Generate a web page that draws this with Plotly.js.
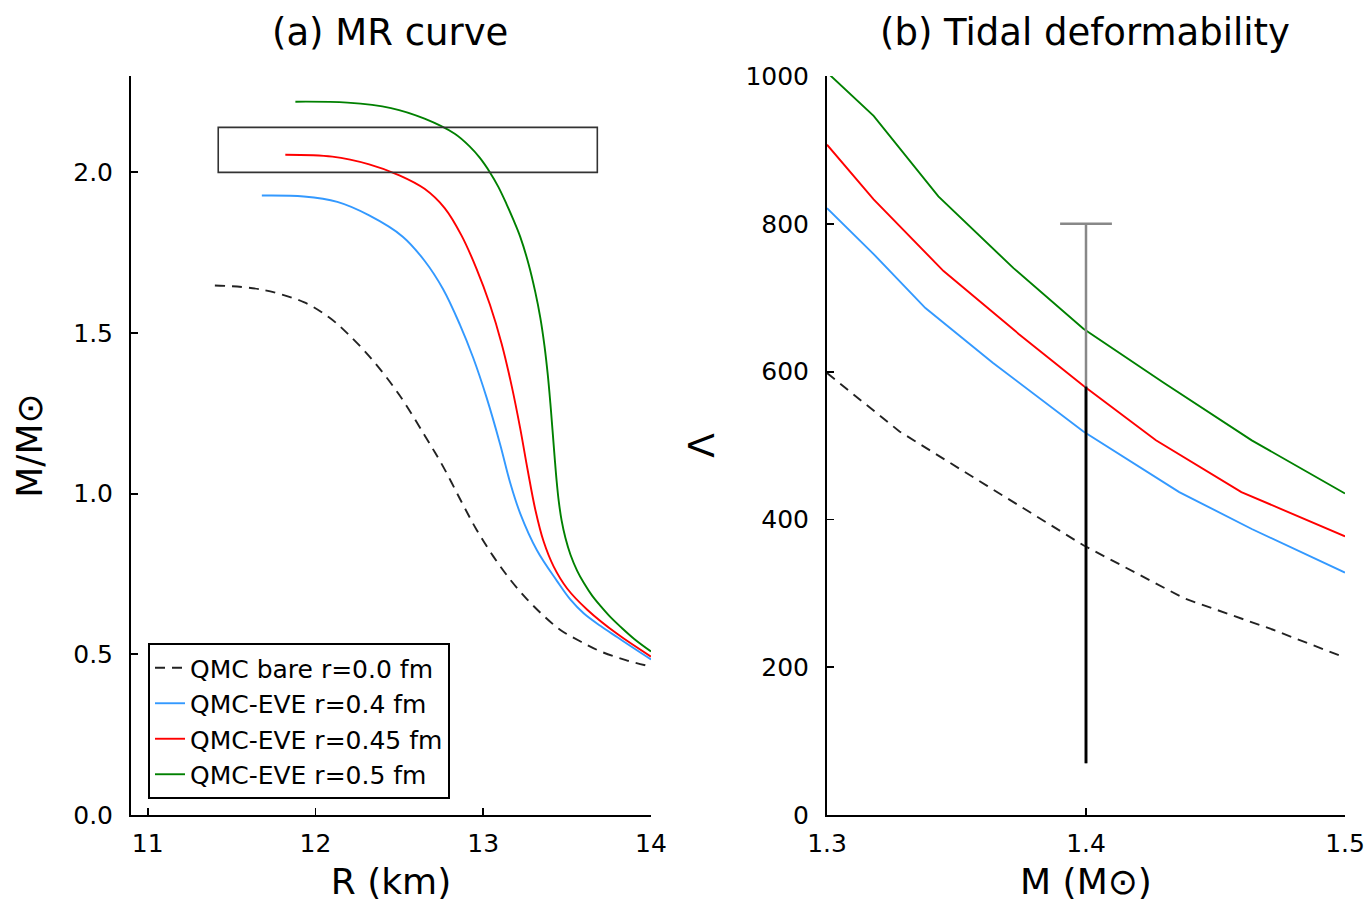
<!DOCTYPE html>
<html>
<head>
<meta charset="utf-8">
<script src="https://cdn.plot.ly/plotly-3.0.1.min.js"></script>
<style>html,body{margin:0;padding:0;background:#fff;}#plot{width:1369px;height:902px;}</style>
</head>
<body>
<div id="plot"></div>
<script>
// ---- Panel (a): mass-radius curves ----
var seriesNames = ["QMC bare r=0.0 fm", "QMC-EVE r=0.4 fm", "QMC-EVE r=0.45 fm", "QMC-EVE r=0.5 fm"];

var R_bare = [11.40, 11.67, 11.93, 12.08, 12.19, 12.34, 12.50, 12.65, 12.76, 12.87, 12.96, 13.06, 13.16, 13.26, 13.36, 13.46, 13.58, 13.70, 13.85, 14.00];
var M_bare = [1.648, 1.636, 1.596, 1.549, 1.499, 1.416, 1.307, 1.182, 1.085, 0.975, 0.888, 0.805, 0.733, 0.672, 0.620, 0.576, 0.540, 0.509, 0.482, 0.462];

var R_04 = [11.68, 11.93, 12.13, 12.32, 12.52, 12.65, 12.76, 12.86, 12.94, 13.02, 13.10, 13.16, 13.22, 13.32, 13.44, 13.52, 13.60, 13.70, 13.80, 13.90, 14.00];
var M_04 = [1.928, 1.925, 1.908, 1.866, 1.800, 1.725, 1.637, 1.527, 1.423, 1.299, 1.155, 1.035, 0.939, 0.824, 0.728, 0.670, 0.627, 0.588, 0.553, 0.518, 0.484];

var R_045 = [11.82, 12.10, 12.32, 12.50, 12.65, 12.77, 12.87, 12.96, 13.04, 13.11, 13.17, 13.22, 13.265, 13.31, 13.36, 13.42, 13.50, 13.62, 13.80, 14.00];
var M_045 = [2.055, 2.049, 2.025, 1.991, 1.949, 1.889, 1.804, 1.700, 1.588, 1.466, 1.334, 1.204, 1.073, 0.951, 0.851, 0.773, 0.705, 0.639, 0.563, 0.493];

var R_05 = [11.88, 12.19, 12.45, 12.65, 12.83, 12.92, 12.98, 13.04, 13.09, 13.14, 13.18, 13.22, 13.27, 13.31, 13.34, 13.365, 13.385, 13.40, 13.413, 13.425, 13.437, 13.45, 13.467, 13.49, 13.52, 13.56, 13.60, 13.65, 13.70, 13.76, 13.82, 13.90, 14.00];
var M_05 = [2.220, 2.217, 2.200, 2.167, 2.120, 2.080, 2.045, 2.000, 1.955, 1.900, 1.852, 1.800, 1.715, 1.628, 1.548, 1.460, 1.368, 1.282, 1.197, 1.117, 1.042, 0.977, 0.917, 0.862, 0.810, 0.760, 0.722, 0.682, 0.650, 0.615, 0.585, 0.548, 0.509];

// observational mass band (rectangle)
var bandR = [11.42, 13.68];
var bandM = [2.0, 2.14];

// ---- Panel (b): tidal deformability ----
var Mt_bare = [1.300, 1.328, 1.362, 1.399, 1.438, 1.472, 1.500];
var L_bare  = [598, 519, 445, 365, 293, 251, 213];

var Mt_04 = [1.300, 1.318, 1.338, 1.364, 1.399, 1.436, 1.464, 1.500];
var L_04  = [821, 759, 686, 612, 519, 437, 387, 328];

var Mt_045 = [1.300, 1.318, 1.345, 1.374, 1.399, 1.427, 1.460, 1.500];
var L_045  = [907, 833, 736, 651, 581, 507, 437, 377];

var Mt_05 = [1.300, 1.318, 1.343, 1.372, 1.399, 1.430, 1.464, 1.500];
var L_05  = [1005, 946, 837, 740, 658, 585, 507, 435];

// GW170817 constraints at M = 1.4
var gwM = [1.4, 1.4];
var gwGray = [70, 800];
var gwCapM = [1.39, 1.41];
var gwCapL = [800, 800];
var gwBlack = [70, 580];

var colors = ["#222222", "#3399ff", "#ff0000", "#008000"];
var FONT = "DejaVu Sans";

function line(x, y, name, color, dash, xa, ya, show, shape) {
  return {
    x: x, y: y, name: name, type: "scatter", mode: "lines",
    xaxis: xa, yaxis: ya, showlegend: show,
    line: {color: color, width: 1.9, dash: dash || "solid", shape: shape || "linear", smoothing: 1.0},
    hoverinfo: "x+y+name"
  };
}

var traces = [
  line(R_bare, M_bare, seriesNames[0], colors[0], "10px,7px", "x", "y", true, "spline"),
  line(R_04, M_04, seriesNames[1], colors[1], null, "x", "y", true, "spline"),
  line(R_045, M_045, seriesNames[2], colors[2], null, "x", "y", true, "spline"),
  line(R_05, M_05, seriesNames[3], colors[3], null, "x", "y", true, "spline"),
  line(Mt_bare, L_bare, seriesNames[0], colors[0], "10px,7px", "x2", "y2", false),
  line(Mt_04, L_04, seriesNames[1], colors[1], null, "x2", "y2", false),
  line(Mt_045, L_045, seriesNames[2], colors[2], null, "x2", "y2", false),
  line(Mt_05, L_05, seriesNames[3], colors[3], null, "x2", "y2", false),
  {x: gwM, y: gwGray, type: "scatter", mode: "lines", xaxis: "x2", yaxis: "y2", showlegend: false,
   line: {color: "#888888", width: 2.5}, hoverinfo: "skip"},
  {x: gwCapM, y: gwCapL, type: "scatter", mode: "lines", xaxis: "x2", yaxis: "y2", showlegend: false,
   line: {color: "#888888", width: 2.5}, hoverinfo: "skip"},
  {x: gwM, y: gwBlack, type: "scatter", mode: "lines", xaxis: "x2", yaxis: "y2", showlegend: false,
   line: {color: "#000000", width: 2.8}, hoverinfo: "skip"}
];

var W = 1369, H = 902;
function px(v) { return v / W; }
function py(v) { return 1 - v / H; }

var axisCommon = {
  showgrid: false, zeroline: false, showline: true, linecolor: "#000", linewidth: 2,
  ticks: "inside", ticklen: 7, tickwidth: 1.8, tickcolor: "#000",
  tickfont: {family: FONT, size: 25, color: "#000"}, automargin: false, mirror: false
};

function ax(extra) { return Object.assign({}, axisCommon, extra); }
var titleFont = {family: FONT, size: 36, color: "#000"};

var layout = {
  width: W, height: H,
  margin: {l: 0, r: 0, t: 0, b: 0},
  paper_bgcolor: "#fff", plot_bgcolor: "#fff",
  font: {family: FONT, color: "#000"},
  showlegend: true,
  legend: {
    x: px(148), y: py(643), xanchor: "left", yanchor: "top",
    bgcolor: "#fff", bordercolor: "#000", borderwidth: 2,
    font: {family: FONT, size: 25, color: "#000"},
    tracegroupgap: 0, itemwidth: 30
  },
  xaxis: ax({domain: [px(131), px(651)], range: [10.9, 14.0], tickvals: [11, 12, 13, 14],
             ticktext: ["11", "12", "13", "14"], anchor: "y", ticklabelstandoff: 5,
             title: {text: "R (km)", font: titleFont, standoff: 15}}),
  yaxis: ax({domain: [py(815), py(76)], range: [0, 2.3], tickvals: [0, 0.5, 1.0, 1.5, 2.0],
             tickformat: ".1f", anchor: "x", ticklabelstandoff: 11,
             title: {text: "M/M⊙", font: titleFont, standoff: 20}}),
  xaxis2: ax({domain: [px(827), px(1345)], range: [1.3, 1.5], tickvals: [1.3, 1.4, 1.5],
              tickformat: ".1f", anchor: "y2", ticklabelstandoff: 5,
              title: {text: "M (M⊙)", font: titleFont, standoff: 15}}),
  yaxis2: ax({domain: [py(815), py(76)], range: [0, 1000], tickvals: [0, 200, 400, 600, 800, 1000],
              anchor: "x2", ticklabelstandoff: 11,
              title: {text: "Λ", font: titleFont, standoff: 20}}),
  shapes: [{
    type: "rect", xref: "x", yref: "y",
    x0: bandR[0], x1: bandR[1], y0: bandM[0], y1: bandM[1],
    line: {color: "#333", width: 1.6}, fillcolor: "rgba(0,0,0,0)", layer: "above"
  }],
  annotations: [
    {text: "(a) MR curve", xref: "paper", yref: "paper", x: px(390), y: py(32),
     xanchor: "center", yanchor: "middle", showarrow: false,
     font: {family: FONT, size: 37, color: "#000"}},
    {text: "(b) Tidal deformability", xref: "paper", yref: "paper", x: px(1085), y: py(32),
     xanchor: "center", yanchor: "middle", showarrow: false,
     font: {family: FONT, size: 37, color: "#000"}}
  ]
};

Plotly.newPlot("plot", traces, layout, {displayModeBar: false, staticPlot: true});
</script>
</body>
</html>
